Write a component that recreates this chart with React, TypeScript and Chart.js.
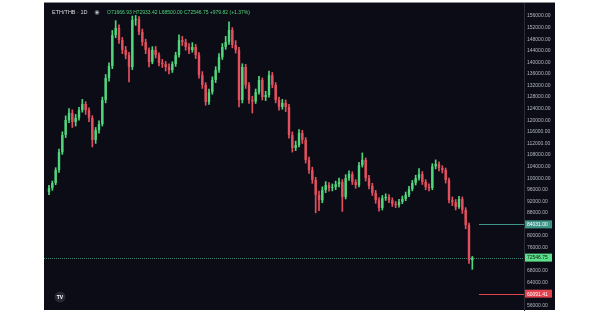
import React, { useEffect, useRef } from "react";
import { Chart, registerables } from "chart.js";

Chart.register(...registerables);

const symbolTitle = "ETH/THB · 1D";
const firstOpen = 95200;
const closes = [
  96600, 98300, 102800, 109000, 114900, 120100, 122500, 119400, 120800, 123500,
  125600, 123500, 120800, 113200, 116600, 118700, 127000, 134600, 138700, 149400,
  151900, 147700, 144300, 142500, 138400, 154600, 154900, 150500, 147000, 144300,
  140100, 144300, 142500, 139800, 139400, 138400, 137300, 139400, 142500, 147700,
  147000, 145300, 144300, 145300, 142500, 135600, 132200, 126300, 129700, 133900,
  137300, 141800, 145300, 147000, 151200, 146000, 144300, 127000, 138400, 132200,
  127000, 126500, 129700, 133900, 128000, 128700, 135600, 132200, 127000, 124600,
  126000, 124600, 114900, 110400, 111400, 115600, 113200, 106300, 102800, 99400,
  94200, 92400, 95900, 97600, 96600, 96900, 97900, 98700, 93500, 100000,
  101400, 98700, 97600, 104500, 106300, 100000, 97300, 94900, 92400, 89700,
  93100, 93500, 92400, 91100, 90700, 91800, 92800, 94200, 96200, 98300,
  100000, 101400, 98700, 96900, 96600, 104100, 104900, 103500, 102800, 99400,
  92400, 91700, 90000, 92800, 89000, 83800, 71666.93, 72546.75,
];
const highs = [
  97500, 99000, 103600, 110000, 116000, 121500, 124000, 123600, 122000, 124500,
  127200, 126400, 124300, 121600, 117500, 119800, 128000, 135800, 139800, 151000,
  154400, 153000, 148600, 145500, 143500, 156000, 156200, 155800, 151500, 148000,
  145000, 145400, 145500, 143300, 141000, 140300, 139500, 140200, 143500, 149500,
  149000, 148000, 146500, 146800, 146200, 143400, 136800, 133000, 130800, 135000,
  138500, 143000, 146500, 149000, 154000, 152000, 147500, 145200, 139500, 139300,
  133000, 128300, 130800, 135200, 134600, 130000, 137000, 136500, 133000, 128000,
  127200, 127000, 125500, 116000, 112800, 116800, 116500, 114000, 107300, 103800,
  100300, 95500, 97000, 98800, 98500, 98000, 99000, 100000, 99500, 101200,
  102500, 102200, 99500, 105500, 108700, 107000, 101000, 98200, 95800, 93300,
  94000, 94600, 94300, 93200, 92000, 92700, 93800, 95200, 97200, 99200,
  101000, 103300, 102300, 99500, 98000, 105000, 106300, 105600, 104300, 103500,
  100000, 93500, 92600, 93700, 93500, 89800, 84500, 72933.42,
];
const lows = [
  94300, 95800, 97700, 102000, 108200, 114000, 119200, 117500, 118000, 120000,
  122800, 122000, 119500, 110800, 112000, 115500, 118000, 126000, 133500, 137800,
  148500, 146500, 143000, 141200, 133200, 137500, 152800, 149600, 145800, 143000,
  138400, 139500, 141500, 138800, 138200, 137000, 136000, 136500, 138600, 141800,
  145800, 144200, 143000, 143500, 141300, 134500, 131000, 125200, 125500, 129000,
  133000, 136500, 141000, 144500, 146200, 145000, 143200, 124600, 126000, 131000,
  125800, 122500, 125800, 129000, 127000, 126800, 128000, 131200, 126000, 123500,
  123800, 123000, 113800, 109000, 109500, 110800, 112000, 105200, 101600, 98200,
  88000, 88800, 91500, 95000, 95500, 95600, 96000, 97000, 88500, 92800,
  99200, 97800, 96500, 97000, 103800, 99000, 96300, 94000, 91300, 88600,
  89000, 92300, 91500, 90200, 89800, 90000, 91200, 92200, 93600, 95600,
  97600, 99300, 97800, 96000, 95600, 96000, 103200, 102500, 101800, 98300,
  91400, 90500, 89000, 89500, 87800, 82500, 70500, 68500,
];
const yTickValues = [
  156000, 152000, 148000, 144000, 140000, 136000, 132000, 128000, 124000,
  120000, 116000, 112000, 108000, 104000, 100000, 96000, 92000, 88000, 84000,
  80000, 76000, 72000, 68000, 64000, 60000, 56000,
];
const upperLevel = 84031.0;
const lowerLevel = 60091.41;
const changeAbs = 979.82;
const changePct = 1.37;
const leadingBlankSlots = 1;
const trailingBlankSlots = 15;

const BG = "#0b0c16";
const UP = "#52d67c";
const DOWN = "#e4505d";

export default function App() {
  const ref = useRef<HTMLCanvasElement | null>(null);

  useEffect(() => {
    const canvas = ref.current;
    if (!canvas) return;
    const opens = closes.map((c, i) => (i === 0 ? firstOpen : closes[i - 1]));
    const n = closes.length;
    const total = leadingBlankSlots + n + trailingBlankSlots;
    const labels: string[] = [];
    for (let i = 0; i < total; i++) labels.push("d" + i);
    const bodies: any[] = [];
    const wicks: any[] = [];
    const colors: string[] = [];
    for (let i = 0; i < total; i++) {
      const k = i - leadingBlankSlots;
      if (k >= 0 && k < n) {
        bodies.push([opens[k], closes[k]]);
        wicks.push([lows[k], highs[k]]);
        colors.push(closes[k] >= opens[k] ? UP : DOWN);
      } else {
        bodies.push(null);
        wicks.push(null);
        colors.push(UP);
      }
    }
    const last = n - 1;
    const lastOpen = opens[last];
    const lastClose = closes[last];

    const plugin = {
      id: "tvPanel",
      beforeDraw(chart: any) {
        const ctx = chart.ctx;
        ctx.save();
        ctx.fillStyle = "#ffffff";
        ctx.fillRect(0, 0, 600, 314);
        ctx.fillStyle = BG;
        ctx.fillRect(44, 2, 511, 308);
        ctx.fillStyle = "#8c8c8c";
        ctx.fillRect(44, 2, 511, 1);
        ctx.restore();
      },
      beforeDatasetsDraw(chart: any) {
        const ctx = chart.ctx;
        const y = chart.scales.y;
        const area = chart.chartArea;
        ctx.save();
        const py = Math.round(y.getPixelForValue(lastClose)) + 0.5;
        ctx.strokeStyle = "#3d7e6c";
        ctx.lineWidth = 1;
        ctx.setLineDash([1, 1]);
        ctx.beginPath();
        ctx.moveTo(44, py);
        ctx.lineTo(area.right, py);
        ctx.stroke();
        ctx.setLineDash([]);
        const xs = chart.scales.x;
        const startX = xs.getPixelForValue(leadingBlankSlots + n + 1);
        const pu = Math.round(y.getPixelForValue(upperLevel)) + 0.5;
        ctx.strokeStyle = "#3f9488";
        ctx.beginPath();
        ctx.moveTo(startX, pu);
        ctx.lineTo(area.right, pu);
        ctx.stroke();
        const pl = Math.round(y.getPixelForValue(lowerLevel)) + 0.5;
        ctx.strokeStyle = "#e0424f";
        ctx.beginPath();
        ctx.moveTo(startX, pl);
        ctx.lineTo(area.right, pl);
        ctx.stroke();
        ctx.restore();
      },
      afterDraw(chart: any) {
        const ctx = chart.ctx;
        const y = chart.scales.y;
        const area = chart.chartArea;
        ctx.save();
        const box = (v: number, bg: string, fg: string) => {
          const py = y.getPixelForValue(v);
          ctx.fillStyle = bg;
          ctx.fillRect(area.right + 1, py - 4, 27, 8);
          ctx.fillStyle = fg;
          ctx.font = "5px 'Liberation Sans', Arial, sans-serif";
          ctx.textAlign = "left";
          ctx.textBaseline = "middle";
          ctx.fillText(v.toFixed(2), area.right + 3, py + 0.5);
        };
        box(upperLevel, "#3f9488", "#ffffff");
        box(lastClose, "#5ce08a", "#0b1a10");
        box(lowerLevel, "#e0424f", "#ffffff");

        ctx.textBaseline = "middle";
        ctx.textAlign = "left";
        ctx.font = "5.5px 'Liberation Sans', Arial, sans-serif";
        ctx.fillStyle = "#d7d9df";
        ctx.fillText(symbolTitle, 52, 12.5);
        ctx.beginPath();
        ctx.arc(97, 12.5, 2.4, 0, Math.PI * 2);
        ctx.fillStyle = "#5a5f6a";
        ctx.fill();
        ctx.beginPath();
        ctx.arc(97, 12.5, 1.1, 0, Math.PI * 2);
        ctx.fillStyle = "#d0d0d0";
        ctx.fill();
        ctx.font = "5px 'Liberation Sans', Arial, sans-serif";
        ctx.fillStyle = UP;
        const sign = changeAbs >= 0 ? "+" : "";
        const txt =
          "O" + lastOpen.toFixed(2) +
          " H" + highs[last].toFixed(2) +
          " L" + lows[last].toFixed(2) +
          " C" + lastClose.toFixed(2) +
          " " + sign + changeAbs.toFixed(2) +
          " (" + sign + changePct.toFixed(2) + "%)";
        ctx.fillText(txt, 107, 12.5);

        ctx.beginPath();
        ctx.arc(60, 297, 5.5, 0, Math.PI * 2);
        ctx.fillStyle = "#262833";
        ctx.fill();
        ctx.fillStyle = "#ffffff";
        ctx.font = "bold 5px 'Liberation Sans', Arial, sans-serif";
        ctx.textAlign = "center";
        ctx.fillText("TV", 60, 297.5);
        ctx.restore();
      },
    };

    const chart = new Chart(canvas, {
      type: "bar",
      data: {
        labels,
        datasets: [
          {
            label: "wick",
            data: wicks,
            backgroundColor: colors,
            barThickness: 1,
            grouped: false,
            borderWidth: 0,
            borderSkipped: false,
            order: 2,
          } as any,
          {
            label: "body",
            data: bodies,
            backgroundColor: colors,
            barPercentage: 0.72,
            categoryPercentage: 1,
            grouped: false,
            borderWidth: 0,
            borderSkipped: false,
            order: 1,
          } as any,
        ],
      },
      options: {
        responsive: false,
        animation: false,
        layout: { padding: { left: 44, right: 45, top: 3, bottom: 4 } },
        plugins: { legend: { display: false }, tooltip: { enabled: false } },
        scales: {
          x: {
            type: "category",
            display: false,
            offset: true,
            grid: { display: false },
          },
          y: {
            type: "linear",
            position: "right",
            min: 54450,
            max: 160500,
            grid: { display: false, drawTicks: false },
            border: { display: true, color: "#2a2d38", width: 1 },
            ticks: {
              color: "#b4b7c0",
              padding: 3,
              font: { size: 5, family: "'Liberation Sans', Arial, sans-serif" },
              callback: (v: any) => Number(v).toFixed(2),
            },
            afterBuildTicks: (scale: any) => {
              scale.ticks = yTickValues.map((v) => ({ value: v }));
            },
            afterFit: (scale: any) => {
              scale.width = 31;
              scale.paddingTop = 0;
              scale.paddingBottom = 0;
            },
          } as any,
        },
      },
      plugins: [plugin],
    });
    return () => chart.destroy();
  }, []);

  return (
    <canvas
      ref={ref}
      width={600}
      height={314}
      style={{ position: "fixed", left: 0, top: 0, width: 600, height: 314 }}
    />
  );
}
